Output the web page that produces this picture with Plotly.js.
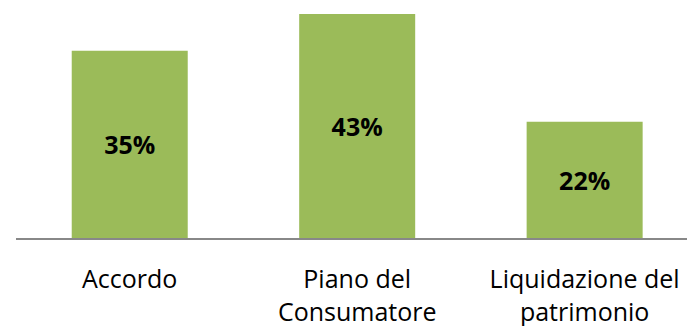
<!DOCTYPE html>
<html>
<head>
<meta charset="utf-8">
<script src="https://cdn.plot.ly/plotly-3.0.1.min.js"></script>
<style>html,body{margin:0;padding:0;background:#fff;}#chart{width:687px;height:326px;}</style>
</head>
<body>
<div id="chart"></div>
<script>
const categories = ["Accordo", "Piano del<br>Consumatore", "Liquidazione del<br>patrimonio"];
const values = [35.6, 42.6, 22.1];
const valueLabels = ["35%", "43%", "22%"];

Plotly.newPlot("chart", [{
  type: "bar",
  x: [0, 1, 2],
  y: values,
  text: valueLabels,
  textposition: "inside",
  insidetextanchor: "middle",
  textangle: 0,
  textfont: {family: "Open Sans", size: 25, color: "#000", weight: "bold"},
  marker: {color: "#9BBB59"},
  width: 0.51,
  hoverinfo: "none"
}], {
  width: 687, height: 326,
  margin: {l: 16, r: 0, t: 0, b: 88},
  paper_bgcolor: "#fff", plot_bgcolor: "#fff",
  showlegend: false,
  xaxis: {
    range: [-0.5, 2.45],
    tickvals: [0, 1, 2],
    ticktext: categories,
    showline: true, linecolor: "#888", linewidth: 2,
    showgrid: false, zeroline: false, ticks: "",
    tickfont: {family: "Open Sans", size: 25, color: "#000"},
    ticklabelstandoff: 18
  },
  yaxis: {
    range: [0, 45.25],
    visible: false, showgrid: false, zeroline: false
  }
}, {staticPlot: true});
</script>
</body>
</html>
